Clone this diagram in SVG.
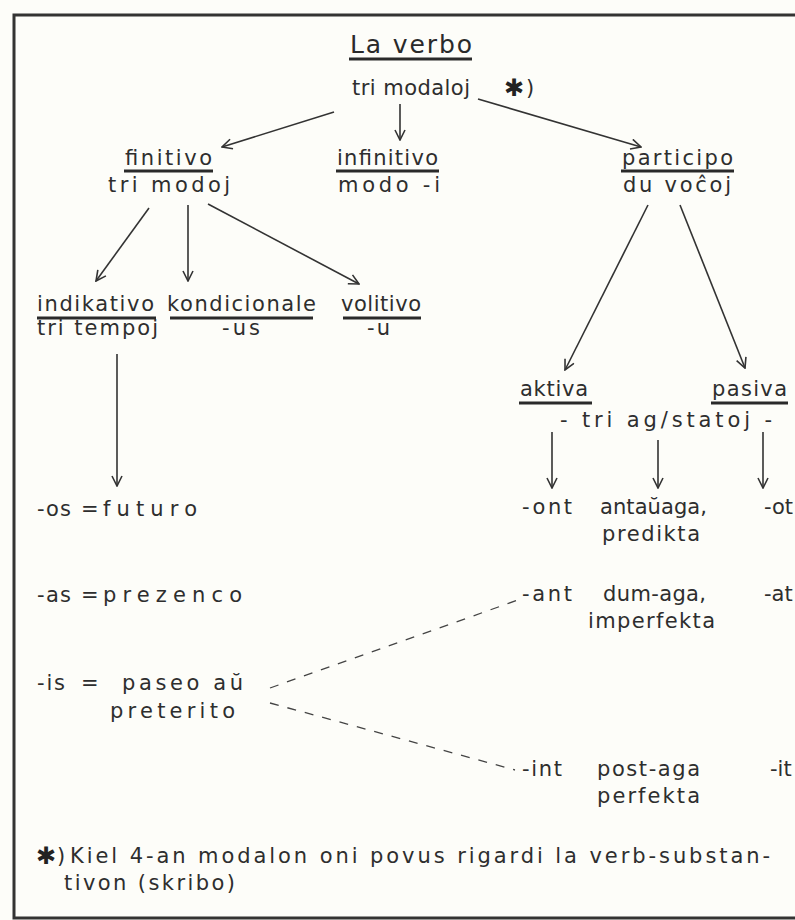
<svg xmlns="http://www.w3.org/2000/svg" width="795" height="920" viewBox="0 0 795 920">
<defs>
<style>
.t{font-family:"DejaVu Sans","Liberation Sans",sans-serif;font-size:21px;fill:#2e2e2e}
.tb{font-family:"DejaVu Sans","Liberation Sans",sans-serif;font-size:25px;fill:#2a2a2a}
.s{font-family:"DejaVu Sans","Liberation Sans",sans-serif;font-size:24px;font-weight:bold;fill:#222}
.u{stroke:#2a2a2a;stroke-width:3;fill:none}
.a{stroke:#333;stroke-width:1.6;fill:none;marker-end:url(#ah)}
.d{stroke:#444;stroke-width:1.3;fill:none;stroke-dasharray:9 9}
.b{stroke:#333;stroke-width:3;fill:none}
</style>
<marker id="ah" viewBox="0 0 12 12" refX="11" refY="6" markerWidth="12" markerHeight="12" markerUnits="userSpaceOnUse" orient="auto">
<path d="M1,1 L11,6 L1,11" fill="none" stroke="#333" stroke-width="1.6"/>
</marker>
</defs>
<rect width="795" height="920" fill="#fdfdf9"/>
<g id="border">
<path class="b" d="M795,15 L14,15 L14,918 L795,918"/>
</g>
<g id="root">
<text class="tb" x="350" y="53" textLength="122" lengthAdjust="spacing">La verbo</text>
<line class="u" x1="349" y1="59" x2="472" y2="59"/>
<text class="t" x="352" y="95" textLength="118" lengthAdjust="spacing">tri modaloj</text>
<text class="s" x="504" y="96">✱</text><text class="t" x="526" y="95">)</text>
</g>
<g id="finitivo">
<text class="t" x="125" y="165" textLength="87" lengthAdjust="spacing">finitivo</text>
<line class="u" x1="124" y1="171" x2="213" y2="171"/>
<text class="t" x="108" y="192" textLength="122" lengthAdjust="spacing">tri modoj</text>
</g>
<g id="infinitivo">
<text class="t" x="337" y="165" textLength="101" lengthAdjust="spacing">infinitivo</text>
<line class="u" x1="336" y1="171" x2="439" y2="171"/>
<text class="t" x="338" y="192" textLength="102" lengthAdjust="spacing">modo -i</text>
</g>
<g id="participo">
<text class="t" x="622" y="165" textLength="111" lengthAdjust="spacing">participo</text>
<line class="u" x1="621" y1="171" x2="734" y2="171"/>
<text class="t" x="623" y="192" textLength="108" lengthAdjust="spacing">du voĉoj</text>
</g>
<g id="indikativo">
<text class="t" x="37" y="311" textLength="117" lengthAdjust="spacing">indikativo</text>
<line class="u" x1="37" y1="318" x2="156" y2="318"/>
<text class="t" x="37" y="335" textLength="121" lengthAdjust="spacing">tri tempoj</text>
</g>
<g id="kondicionale">
<text class="t" x="167" y="311" textLength="149" lengthAdjust="spacing">kondicionale</text>
<line class="u" x1="170" y1="318" x2="313" y2="318"/>
<text class="t" x="222" y="335" textLength="38" lengthAdjust="spacing">-us</text>
</g>
<g id="volitivo">
<text class="t" x="341" y="311" textLength="80" lengthAdjust="spacing">volitivo</text>
<line class="u" x1="343" y1="318" x2="421" y2="318"/>
<text class="t" x="367" y="335" textLength="23" lengthAdjust="spacing">-u</text>
</g>
<g id="tempoj">
<text class="t" x="37" y="516" textLength="34" lengthAdjust="spacing">-os</text><text class="t" x="81" y="516">=</text><text class="t" x="103" y="516" textLength="94" lengthAdjust="spacing">futuro</text>
<text class="t" x="37" y="602" textLength="34" lengthAdjust="spacing">-as</text><text class="t" x="81" y="602">=</text><text class="t" x="103" y="602" textLength="139" lengthAdjust="spacing">prezenco</text>
<text class="t" x="37" y="690" textLength="28" lengthAdjust="spacing">-is</text><text class="t" x="81" y="690">=</text><text class="t" x="122" y="690" textLength="121" lengthAdjust="spacing">paseo aŭ</text>
<text class="t" x="110" y="718" textLength="125" lengthAdjust="spacing">preterito</text>
</g>
<g id="aktiva">
<text class="t" x="520" y="396" textLength="68" lengthAdjust="spacing">aktiva</text>
<line class="u" x1="519" y1="403" x2="592" y2="403"/>
</g>
<g id="pasiva">
<text class="t" x="712" y="396" textLength="75" lengthAdjust="spacing">pasiva</text>
<line class="u" x1="711" y1="403" x2="788" y2="403"/>
</g>
<g id="statoj">
<text class="t" x="560" y="427" textLength="212" lengthAdjust="spacing">- tri ag/statoj -</text>
</g>
<g id="forms">
<text class="t" x="522" y="514" textLength="50" lengthAdjust="spacing">-ont</text>
<text class="t" x="600" y="514" textLength="107" lengthAdjust="spacing">antaŭaga,</text>
<text class="t" x="764" y="514">-ot</text>
<text class="t" x="602" y="541" textLength="98" lengthAdjust="spacing">predikta</text>
<text class="t" x="522" y="601" textLength="50" lengthAdjust="spacing">-ant</text>
<text class="t" x="603" y="601" textLength="103" lengthAdjust="spacing">dum-aga,</text>
<text class="t" x="764" y="601">-at</text>
<text class="t" x="588" y="628" textLength="127" lengthAdjust="spacing">imperfekta</text>
<text class="t" x="522" y="776" textLength="40" lengthAdjust="spacing">-int</text>
<text class="t" x="597" y="776" textLength="103" lengthAdjust="spacing">post-aga</text>
<text class="t" x="770" y="776">-it</text>
<text class="t" x="597" y="803" textLength="103" lengthAdjust="spacing">perfekta</text>
</g>
<g id="footnote">
<text class="s" x="36" y="864">✱</text><text class="t" x="57" y="863">)</text>
<text class="t" x="70" y="863" textLength="700" lengthAdjust="spacing">Kiel 4-an modalon oni povus rigardi la verb-substan-</text>
<text class="t" x="64" y="890" textLength="171" lengthAdjust="spacing">tivon (skribo)</text>
</g>
<g id="connectors">
<line class="a" x1="334" y1="112" x2="222" y2="147"/>
<line class="a" x1="400" y1="104" x2="400" y2="140"/>
<line class="a" x1="478" y1="99" x2="641" y2="147"/>
<line class="a" x1="149" y1="208" x2="96" y2="281"/>
<line class="a" x1="188" y1="205" x2="188" y2="281"/>
<line class="a" x1="208" y1="204" x2="359" y2="284"/>
<line class="a" x1="117" y1="354" x2="117" y2="486"/>
<line class="a" x1="648" y1="205" x2="565" y2="370"/>
<line class="a" x1="680" y1="205" x2="745" y2="368"/>
<line class="a" x1="552" y1="432" x2="552" y2="488"/>
<line class="a" x1="658" y1="440" x2="658" y2="488"/>
<line class="a" x1="763" y1="432" x2="763" y2="488"/>
<line class="d" x1="270" y1="688" x2="518" y2="600"/>
<line class="d" x1="270" y1="703" x2="515" y2="770"/>
</g>
</svg>
